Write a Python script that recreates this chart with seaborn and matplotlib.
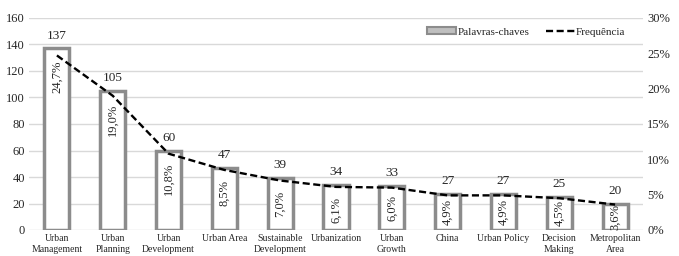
import numpy as np
import matplotlib
matplotlib.use("Agg")
import matplotlib.pyplot as plt
import seaborn as sns
from matplotlib.ticker import FuncFormatter
from matplotlib.patches import Patch

# data
categories = ["Urban\nManagement", "Urban\nPlanning", "Urban\nDevelopment", "Urban Area",
              "Sustainable\nDevelopment", "Urbanization", "Urban\nGrowth", "China",
              "Urban Policy", "Decision\nMaking", "Metropolitan\nArea"]
counts = [137, 105, 60, 47, 39, 34, 33, 27, 27, 25, 20]
percents = [24.7, 19.0, 10.8, 8.5, 7.0, 6.1, 6.0, 4.9, 4.9, 4.5, 3.6]
left_ticks = [0, 20, 40, 60, 80, 100, 120, 140, 160]
right_ticks = [0, 5, 10, 15, 20, 25, 30]

sns.set_style("white")
plt.rcParams['font.family'] = ['Liberation Serif', 'DejaVu Serif']

bar_edge = '#8c8c8c'
fig = plt.figure(figsize=(6.79, 2.56), dpi=100)
ax = fig.add_axes([29 / 679, 1 - 230 / 256, 614 / 679, 212 / 256])

x = np.arange(len(categories))
sns.barplot(x=x, y=counts, color='white', edgecolor=bar_edge, linewidth=2.5,
            width=0.45, saturation=1, ax=ax, zorder=2)
ax.set_ylim(0, 160)
ax.set_yticks(left_ticks)
ax.set_xlim(-0.5, len(categories) - 0.5)
ax.set_xticks(x)
ax.set_xticklabels(categories, fontsize=7, linespacing=1.2)
ax.tick_params(axis='y', labelsize=9, length=0, pad=3)
ax.tick_params(axis='x', length=0, pad=3)
ax.grid(axis='y', color='#d9d9d9', lw=1, zorder=0)
ax.set_axisbelow(True)
for s in ax.spines.values():
    s.set_visible(False)

# value labels above bars and percent labels inside
for i, (c, p) in enumerate(zip(counts, percents)):
    ax.annotate(str(c), (i, c), xytext=(0, 5), textcoords='offset points',
                ha='center', va='bottom', fontsize=9.5)
    lbl = f"{p:.1f}%".replace('.', ',')
    if c > 33:
        ax.annotate(lbl, (i, c), xytext=(0, -9), textcoords='offset points',
                    ha='center', va='top', rotation=90, fontsize=9)
    else:
        ax.text(i, c / 2, lbl, ha='center', va='center', rotation=90, fontsize=9)

# frequency line on secondary axis
ax2 = ax.twinx()
sns.lineplot(x=x, y=percents, ax=ax2, color='black', lw=1.7, linestyle=(0, (3, 1.5)))
ax2.set_ylim(0, 30)
ax2.set_yticks(right_ticks)
ax2.yaxis.set_major_formatter(FuncFormatter(lambda v, _: f"{v:.0f}%"))
ax2.tick_params(axis='y', labelsize=9, length=0, pad=3)
ax2.grid(False)
for s in ax2.spines.values():
    s.set_visible(False)

bar_handle = Patch(facecolor='#bfbfbf', edgecolor=bar_edge, linewidth=1.5)
handles = [bar_handle, ax2.lines[0]]
ax2.legend(handles, ["Palavras-chaves", "Frequência"], loc='center',
           bbox_to_anchor=(0.81, 0.934), ncol=2, frameon=False, fontsize=8,
           handlelength=2.6, handleheight=0.5, handletextpad=0.1, columnspacing=1.5)

fig.savefig("out.png", dpi=100)
